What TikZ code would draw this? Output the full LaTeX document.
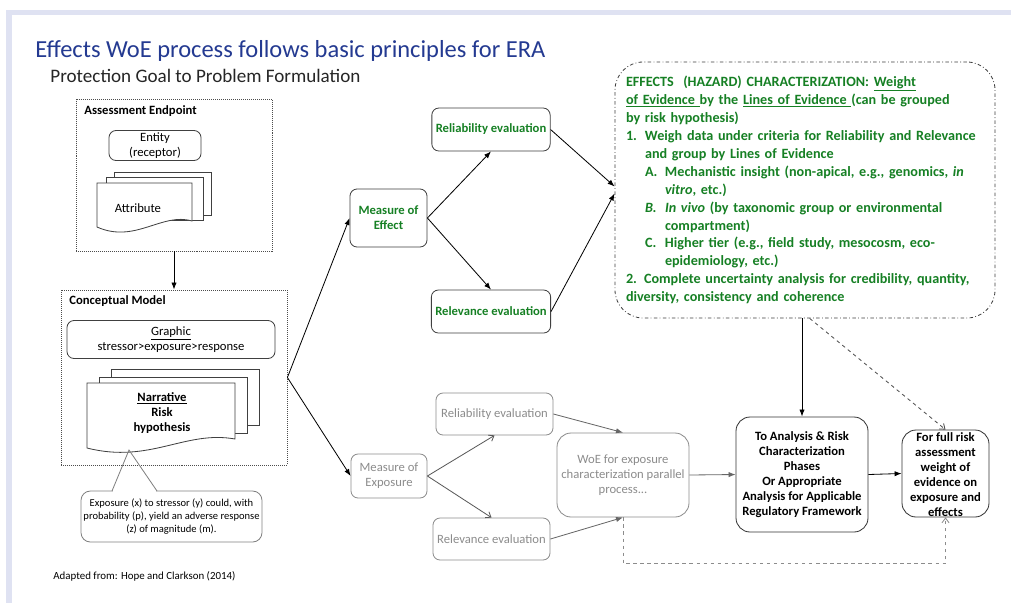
\documentclass[tikz,border=0pt]{standalone}
\usepackage{fontspec}
\setmainfont{Carlito}
\usetikzlibrary{arrows.meta}
\definecolor{effgreen}{RGB}{22,128,36}
\definecolor{titleblue}{RGB}{36,58,145}
\definecolor{barblue}{RGB}{223,226,242}
\def\pxu{0.03cm}
\def\lblsize{\fontsize{10.8}{12.8}\selectfont}

\begin{document}
\begin{tikzpicture}[x=0.03cm, y=-0.03cm, >={Latex[length=6pt,width=4.5pt]}, line width=0.7pt]
  \tikzstyle{dotbox}=[draw=black!70, densely dotted]
  \tikzstyle{plainbox}=[draw=black!75, rounded corners=6pt, align=center, font=\lblsize]
  \tikzstyle{greenbox}=[plainbox, font=\lblsize\bfseries, text=effgreen]
  \tikzstyle{graybox}=[plainbox, draw=black!45, text=black!45]
  \tikzstyle{blackbox}=[plainbox, draw=black!80, rounded corners=12pt, font=\lblsize\bfseries]
  \tikzstyle{sheet}=[draw=black!75, fill=white]
  \tikzstyle{openarrow}=[-{Straight Barb[length=4pt,width=6pt]}]

  \useasboundingbox (0,0) rectangle (1011,603);
  \fill[white] (0,0) rectangle (1011,603);
  \fill[barblue] (6,10) rectangle (1011,15);
  \fill[barblue] (6,10) rectangle (12,603);

  \node[anchor=base west, inner sep=0, text=titleblue, font=\fontsize{20.9}{24}\selectfont] (title) at (35,57) {Effects WoE process follows basic principles for ERA};
  \node[anchor=base west, inner sep=0, text=black!85, font=\fontsize{16.3}{19}\selectfont] (sub) at (50,82) {Protection Goal to Problem Formulation};
  \node[anchor=base west, inner sep=0, font=\fontsize{9.3}{12}\selectfont] (src) at (53,579) {Adapted from: Hope and Clarkson (2014)};

  % assessment endpoint
  \node[dotbox, minimum width=196*\pxu, minimum height=152*\pxu] (AE) at (174,175) {};
  \node[anchor=base west, inner sep=0, font=\fontsize{10.8}{12}\selectfont\bfseries] (AE-lbl) at (84,114) {Assessment Endpoint};
  \node[plainbox, minimum width=92*\pxu, minimum height=30*\pxu, inner sep=1pt] (ent) at (155,145.5) {Entity\\(receptor)};
  \foreach \dx/\dy in {17/11, 9/6}
    \draw[sheet] (97+\dx,183-\dy) rectangle (194+\dx,226-\dy);
  \draw[sheet] (97,183) -- (192,183) -- (192,221) .. controls (162,212) and (135,244) .. (97,227) -- cycle;
  \node[font=\lblsize] (attr) at (138,208) {Attribute};

  % conceptual model
  \node[dotbox, minimum width=226*\pxu, minimum height=175*\pxu] (CM) at (174,377.5) {};
  \node[anchor=base west, inner sep=0, font=\fontsize{10.8}{12}\selectfont\bfseries] (CM-lbl) at (69,304) {Conceptual Model};
  \node[plainbox, minimum width=208*\pxu, minimum height=38*\pxu, inner sep=1pt] (graph) at (171,339.5) {\underline{Graphic}\\stressor>exposure>response};
  \foreach \dx/\dy in {24/14, 12/6}
    \draw[sheet] (87+\dx,383-\dy) rectangle (235+\dx,439-\dy);
  \draw[sheet] (87,383) -- (235,383) -- (235,439) .. controls (185,430) and (150,464) .. (87,448) -- cycle;
  \node[align=center, font=\lblsize\bfseries] (narr) at (162,413) {\underline{Narrative}\\Risk\\hypothesis};

  \node[plainbox, draw=black!50, rounded corners=8pt, inner sep=1pt, minimum width=181*\pxu, minimum height=51*\pxu, font=\fontsize{9}{11}\selectfont] (HY) at (171.5,516.5) {Exposure (x) to stressor (y) could, with\\probability (p), yield an adverse response\\(z) of magnitude (m).};
  \fill[white] (113,488) rectangle (156,494);
  \draw[black!50] (112,491) -- (129,450) -- (157,491);

  \draw[->] (AE.south) -- (CM.north);

  % effects branch
  \node[greenbox, minimum width=77*\pxu, minimum height=58*\pxu] (ME) at (388.5,218) {Measure of\\Effect};
  \foreach \name/\y/\txt in {rel/129.5/Reliability evaluation, rev/311.5/Relevance evaluation}
    \node[greenbox, minimum width=116*\pxu, minimum height=43*\pxu] (E-\name) at (491,\y) {\txt};

  \node[draw=black!75, dash dot, rounded corners=24pt, minimum width=380*\pxu, minimum height=256*\pxu,
        text width=10.74cm, inner xsep=0.33cm, align=left, text=effgreen,
        font=\fontsize{12.1}{15.3}\selectfont\bfseries] (EC) at (805,190) {%
    EFFECTS~~(HAZARD) CHARACTERIZATION:~\underline{Weight}\\
    \underline{of Evidence }by the \underline{Lines of Evidence }(can be grouped\\
    by risk hypothesis)\\
    \makebox[0.57cm][l]{1.}Weigh data under criteria for Reliability and Relevance\\
    \hspace*{0.57cm}and group by Lines of Evidence\\
    \hspace*{0.57cm}\makebox[0.6cm][l]{A.}Mechanistic insight (non-apical, e.g., genomics, \textit{in}\\
    \hspace*{1.17cm}\textit{vitro}, etc.)\\
    \hspace*{0.57cm}\makebox[0.6cm][l]{\textit{B.}}\textit{In vivo} (by taxonomic group or environmental\\
    \hspace*{1.17cm}compartment)\\
    \hspace*{0.57cm}\makebox[0.6cm][l]{C.}Higher tier (e.g., field study, mesocosm, eco-\\
    \hspace*{1.17cm}epidemiology, etc.)\\
    2. Complete uncertainty analysis for credibility, quantity,\\
    diversity, consistency and coherence};

  \draw[->] (CM.east) -- (ME.west);
  \foreach \dest/\anc in {rel/south, rev/north}
    \draw[->] (ME.east) -- (E-\dest.\anc);
  \draw[->] (E-rel.east) -- ([yshift=3pt]EC.west);
  \draw[->] (E-rev.east) -- ([yshift=-3pt]EC.west);

  % exposure branch
  \node[graybox, minimum width=76*\pxu, minimum height=44*\pxu] (MX) at (389,476) {Measure of\\Exposure};
  \foreach \name/\x/\y/\txt in {rel/494.5/414/Reliability evaluation, rev/491.5/539/Relevance evaluation}
    \node[graybox, minimum width=117*\pxu, minimum height=42*\pxu] (X-\name) at (\x,\y) {\txt};
  \node[graybox, rounded corners=12pt, minimum width=132*\pxu, minimum height=84*\pxu] (WoE) at (623,475) {WoE for exposure\\characterization parallel\\process...};

  \draw[->] (CM.east) -- (MX.west);
  \foreach \dest/\anc in {rel/south, rev/north}
    \draw[openarrow, black!65] (MX.east) -- (X-\dest.\anc);
  \draw[->, black!60] (X-rel.east) -- (WoE.north);
  \draw[->, black!60] (X-rev.east) -- (WoE.south);

  % outcome
  \node[blackbox, minimum width=132*\pxu, minimum height=115*\pxu] (AR) at (802,474.5) {To Analysis \& Risk\\Characterization\\Phases\\Or Appropriate\\Analysis for Applicable\\Regulatory Framework};
  \node[blackbox, minimum width=87*\pxu, minimum height=87*\pxu] (FR) at (945.5,473.5) {};
  \node[align=center, font=\lblsize\bfseries] (FR-txt) at (945.5,475) {For full risk\\assessment\\weight of\\evidence on\\exposure and\\effects};

  \draw[->, black!60] (WoE.east) -- (AR.west);
  \draw[->] (AR.north |- EC.south) -- (AR.north);
  \draw[->] (AR.east) -- (FR.west);
  \draw[openarrow, dashed, black!70] ([xshift=4pt]EC.south) -- (FR.north);
  \draw[openarrow, dashed, black!45] (WoE.south) -- ++(0,46) -| (FR.south);
\end{tikzpicture}
\end{document}
